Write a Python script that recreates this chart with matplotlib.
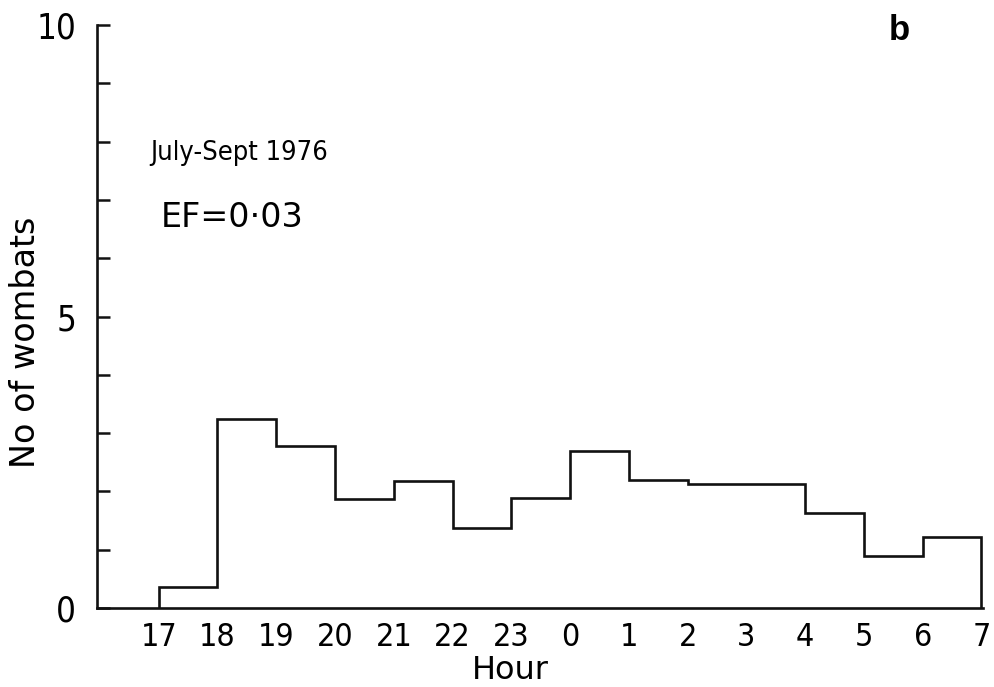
import matplotlib
matplotlib.use('Agg')
import matplotlib.pyplot as plt
import numpy as np

# hour boundaries (bin edges) and mean number of wombats per hour
hour_labels = ['17', '18', '19', '20', '21', '22', '23', '0', '1', '2', '3', '4', '5', '6', '7']
counts = [0.36, 3.24, 2.78, 1.87, 2.18, 1.38, 1.89, 2.70, 2.20, 2.12, 2.12, 1.63, 0.90, 1.22]
y_major = [0, 5, 10]
y_minor = [1, 2, 3, 4, 6, 7, 8, 9]

plt.rcParams['font.family'] = ['DejaVu Sans']

fig = plt.figure(figsize=(9.94, 6.87), dpi=100)
ax = fig.add_axes([0.0976, 0.115, 0.891, 0.8486])

edges = np.arange(len(hour_labels))
ax.stairs(counts, edges, baseline=0, fill=False, color='#111111', lw=1.9)

ax.set_xlim(-1.05, 14.02)
ax.set_ylim(0, 10)

ax.spines['top'].set_visible(False)
ax.spines['right'].set_visible(False)
for side in ['left', 'bottom']:
    ax.spines[side].set_linewidth(1.9)
    ax.spines[side].set_color('#111111')

ax.set_xticks(edges)
ax.set_xticklabels(hour_labels, fontsize=23, fontstretch='condensed')
ax.tick_params(axis='x', length=0, pad=10)

ax.set_yticks(y_major)
ax.set_yticks(y_minor, minor=True)
ax.set_yticklabels([str(v) for v in y_major], fontsize=25, fontstretch='condensed')
ax.tick_params(axis='y', which='both', direction='in', length=9, width=1.8, pad=15, color='#111111')

ax.set_xlabel('Hour', fontsize=23)
ax.xaxis.set_label_coords(0.467, -0.08)
ax.set_ylabel('No of wombats', fontsize=24)
ax.yaxis.set_label_coords(-0.062, 0.455)

ax.text(-0.15, 7.8, 'July-Sept 1976', fontsize=19.5, va='center', ha='left', fontstretch='condensed')
ax.text(0.03, 6.7, 'EF=0\u00b703', fontsize=24, va='center', ha='left')

fig.text(0.905, 0.955, 'b', fontsize=25, fontweight='bold', ha='center', va='center',
         family='Liberation Sans')

plt.savefig('out.png', dpi=100)
